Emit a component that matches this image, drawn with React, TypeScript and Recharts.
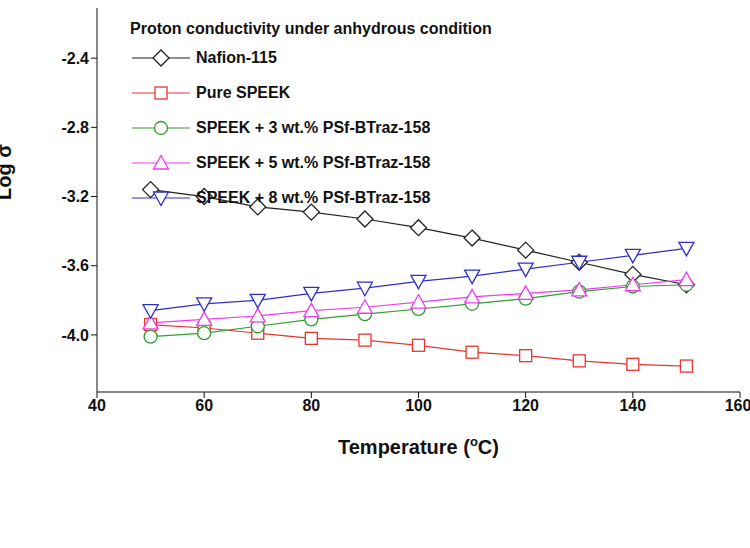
import React from "react";
import { LineChart, Line, XAxis, YAxis } from "recharts";

const temps = [50, 60, 70, 80, 90, 100, 110, 120, 130, 140, 150];
const nafion = [-3.16, -3.2, -3.26, -3.29, -3.33, -3.38, -3.44, -3.51, -3.58, -3.65, -3.71];
const pureSpeek = [-3.94, -3.96, -3.99, -4.02, -4.03, -4.06, -4.1, -4.12, -4.15, -4.17, -4.18];
const speek3 = [-4.01, -3.99, -3.95, -3.91, -3.88, -3.85, -3.82, -3.79, -3.75, -3.72, -3.71];
const speek5 = [-3.93, -3.91, -3.89, -3.86, -3.84, -3.81, -3.78, -3.76, -3.74, -3.71, -3.68];
const speek8 = [-3.86, -3.82, -3.8, -3.76, -3.73, -3.69, -3.66, -3.62, -3.58, -3.54, -3.5];
const xTicks = [40, 60, 80, 100, 120, 140, 160];
const yTicks = [-4.0, -3.6, -3.2, -2.8, -2.4];

const data = temps.map((t, i) => ({
  t,
  nafion: nafion[i],
  pure: pureSpeek[i],
  s3: speek3[i],
  s5: speek5[i],
  s8: speek8[i],
}));

type Kind = "diamond" | "square" | "circle" | "up" | "down";

const Marker = ({ cx, cy, kind, color }: { cx: number; cy: number; kind: Kind; color: string }) => {
  const p = { fill: "#fff", stroke: color, strokeWidth: 1.3 };
  if (kind === "diamond") return <polygon points={`${cx},${cy - 8} ${cx + 8},${cy} ${cx},${cy + 8} ${cx - 8},${cy}`} {...p} />;
  if (kind === "square") return <rect x={cx - 6} y={cy - 6} width={12} height={12} {...p} />;
  if (kind === "circle") return <circle cx={cx} cy={cy} r={6.5} {...p} />;
  if (kind === "up") return <polygon points={`${cx},${cy - 7.5} ${cx + 7.5},${cy + 6} ${cx - 7.5},${cy + 6}`} {...p} />;
  return <polygon points={`${cx},${cy + 7.5} ${cx + 7.5},${cy - 6} ${cx - 7.5},${cy - 6}`} {...p} />;
};

const series: { key: string; name: string; color: string; kind: Kind }[] = [
  { key: "nafion", name: "Nafion-115", color: "#222", kind: "diamond" },
  { key: "pure", name: "Pure SPEEK", color: "#e8352f", kind: "square" },
  { key: "s3", name: "SPEEK + 3 wt.% PSf-BTraz-158", color: "#2e9e2e", kind: "circle" },
  { key: "s5", name: "SPEEK + 5 wt.% PSf-BTraz-158", color: "#ee3cee", kind: "up" },
  { key: "s8", name: "SPEEK + 8 wt.% PSf-BTraz-158", color: "#2d2fcf", kind: "down" },
];

const font = "Liberation Sans, Arial";

const LegendBox = () => (
  <div style={{ position: "absolute", left: 130, top: 20, fontFamily: font, fontWeight: "bold", fontSize: 16, color: "#111" }}>
    <div style={{ marginBottom: 2 }}>Proton conductivity under anhydrous condition</div>
    {series.map((s) => (
      <div key={s.key} style={{ display: "flex", alignItems: "center", height: 35 }}>
        <svg width={62} height={20}>
          <line x1={2} y1={10} x2={60} y2={10} stroke={s.color} strokeWidth={1.2} />
          <Marker cx={31} cy={10} kind={s.kind} color={s.color} />
        </svg>
        <span style={{ marginLeft: 4 }}>{s.name}</span>
      </div>
    ))}
  </div>
);

const XLabel = ({ viewBox }: any) => (
  <text x={viewBox.x + viewBox.width / 2} y={viewBox.y + 62} textAnchor="middle" fontSize={20} fontWeight="bold" fill="#111" fontFamily={font}>
    Temperature  (<tspan dy={-8} fontSize={13}>o</tspan><tspan dy={8}>C)</tspan>
  </text>
);

export default function App() {
  return (
    <div style={{ position: "absolute", left: 0, top: 0, width: 750, height: 548, background: "#fff" }}>
      <LineChart width={750} height={548} data={data} margin={{ top: 8, right: 10, bottom: 78, left: 0 }}>
        <XAxis
          dataKey="t"
          type="number"
          domain={[40, 160]}
          ticks={xTicks}
          tick={{ fontSize: 16, fontWeight: "bold", fill: "#111", fontFamily: font }}
          stroke="#111"
          tickSize={6}
          height={78}
          label={<XLabel />}
        />
        <YAxis
          type="number"
          domain={[-4.33, -2.11]}
          ticks={yTicks}
          tickFormatter={(v: number) => v.toFixed(1)}
          tick={{ fontSize: 16, fontWeight: "bold", fill: "#111", fontFamily: font }}
          stroke="#111"
          width={97}
          tickSize={6}
          label={{ value: "Log \u03C3", angle: -90, position: "insideLeft", offset: 4, fontSize: 20, fontWeight: "bold", fill: "#111", fontFamily: font }}
        />
        <XAxis xAxisId="top" orientation="top" dataKey="t" type="number" domain={[40, 160]} ticks={xTicks} tick={false} stroke="#111" tickSize={-6} height={0} />
        <YAxis yAxisId="right" orientation="right" domain={[-4.33, -2.11]} ticks={yTicks} tick={false} stroke="#111" tickSize={-6} width={0} />
        {series.map((s) => (
          <Line
            key={s.key}
            dataKey={s.key}
            name={s.name}
            stroke={s.color}
            strokeWidth={1.2}
            isAnimationActive={false}
            dot={(props: any) => <Marker key={props.index} cx={props.cx} cy={props.cy} kind={s.kind} color={s.color} />}
          />
        ))}
      </LineChart>
      <LegendBox />
    </div>
  );
}
